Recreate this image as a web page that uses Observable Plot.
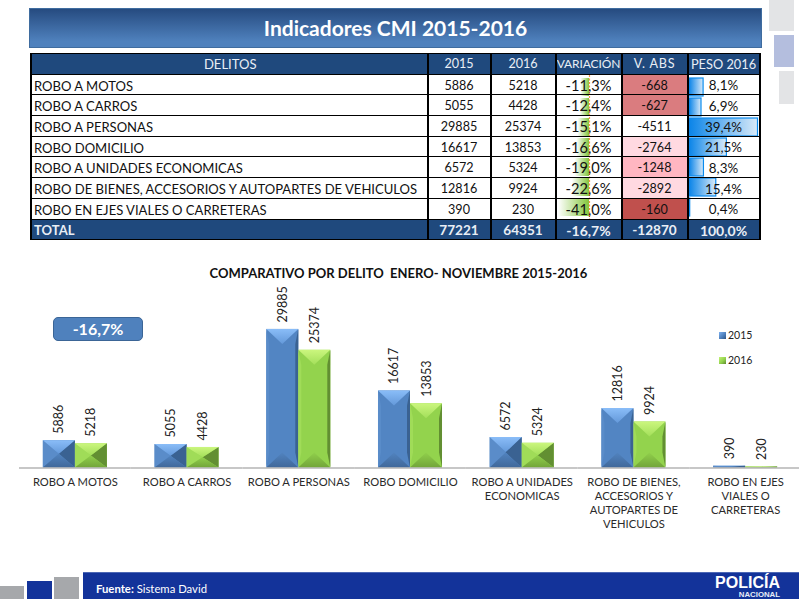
<!DOCTYPE html>
<html lang="es">
<head>
<meta charset="utf-8">
<script src="https://cdn.jsdelivr.net/npm/d3@7"></script>
<script src="https://cdn.jsdelivr.net/npm/@observablehq/plot@0.6"></script>
<style>
html,body{margin:0;padding:0;background:#fff;width:799px;height:599px;overflow:hidden;font-family:Lato,sans-serif;}
.abs{position:absolute;}
#band{left:29px;top:8px;width:731px;height:37.5px;border:1.5px solid #3F6C9F;background:linear-gradient(#264B80,#4F81BD 85%);color:#fff;font:700 21px/37px Lato,sans-serif;text-align:center;}
#tableWrap{left:30px;top:53px;z-index:2;}
table{border-collapse:collapse;table-layout:fixed;width:730px;}
td{height:19.7px;padding:0;border:2px solid #000;border-top-width:1.5px;border-bottom-width:1.5px;color:#111;font-size:12.6px;text-align:center;white-space:nowrap;overflow:hidden;}
td div{display:flex;justify-content:center;align-items:center;height:19.7px;overflow:hidden;line-height:1;padding-top:3px;box-sizing:border-box;}
td.name div{justify-content:flex-start;padding-left:2px;font-size:13.05px;}
tr.head td{background:#1F497D;color:#E9EEF5;font-size:12.6px;}
tr.head td div{padding-top:1px;}
tr.total td{background:#1F497D;color:#E9EEF5;font-weight:700;font-size:13.6px;}
td.pct div{font-size:14.6px;}
tr.row td:nth-child(6) div{font-size:13.4px;}
tr.head td.pct div{font-size:12px;letter-spacing:-.1px;}
tr.head td:nth-child(5) div{letter-spacing:.8px;font-size:12.6px;}
tr.head td:nth-child(6) div{font-size:12.8px;letter-spacing:0;}
tr.total td.pct div{font-size:14px;}
#chartTitle{left:0;width:797px;top:265px;text-align:center;font:700 13px/16px Lato,sans-serif;color:#111;}
#badge{left:53px;top:317px;width:88px;height:22px;border:1.5px solid #3B6596;border-radius:5px;background:#4F81BD;color:#fff;font:700 16px/22px Lato,sans-serif;text-align:center;}
.leg{left:719px;font:400 10.5px/12px Lato,sans-serif;color:#222;display:flex;align-items:center;gap:2px;}
.leg i{display:block;width:7px;height:7px;}
.sq{position:absolute;}
#foot{left:82.5px;top:572px;width:717px;height:27px;background:#13339A;border-top:1px solid #4C67B5;box-sizing:border-box;color:#fff;}
#fuente{left:96px;top:582px;color:#fff;font:400 11.3px/14px Lato,sans-serif;}
#pol{left:700px;width:80px;top:574px;color:#fff;font:700 16px/17px "Liberation Sans",sans-serif;text-align:right;}
#nac{left:700px;width:80px;top:590px;color:#E8ECF6;font:700 7.8px/9px "Liberation Sans",sans-serif;text-align:right;}
</style>
</head>
<body>
<div class="sq" style="left:769px;top:0;width:25px;height:31px;background:#E3E4E6"></div>
<div class="sq" style="left:774px;top:34.5px;width:20px;height:32.5px;background:#B4BEDE"></div>
<div class="sq" style="left:779px;top:71px;width:15px;height:33px;background:#E3E4E6"></div>
<div id="band" class="abs">Indicadores CMI 2015-2016</div>

<div id="chartTitle" class="abs">COMPARATIVO POR DELITO&nbsp; ENERO- NOVIEMBRE 2015-2016</div>
<div id="badge" class="abs">-16,7%</div>
<div class="abs leg" style="top:329px"><i style="background:linear-gradient(135deg,#7DB1F0,#4F81BD 55%,#2F5584)"></i>2015</div>
<div class="abs leg" style="top:354px"><i style="background:linear-gradient(135deg,#C3F274,#92D24C 55%,#5F8A30)"></i>2016</div>

<div class="sq" style="left:0;top:586px;width:24px;height:13px;background:#A6A8AB"></div>
<div class="sq" style="left:27px;top:581px;width:25px;height:18px;background:#13339A"></div>
<div class="sq" style="left:54px;top:577px;width:25px;height:22px;background:#A6A8AB"></div>
<div id="foot" class="abs"></div>
<div id="fuente" class="abs"><b>Fuente:</b> Sistema David</div>
<div id="pol" class="abs">POLICÍA</div>
<div id="nac" class="abs">NACIONAL</div>

<script>
// ---- Data ----
const categories = [
  "ROBO A MOTOS","ROBO A CARROS","ROBO A PERSONAS","ROBO DOMICILIO",
  "ROBO A UNIDADES ECONOMICAS","ROBO DE BIENES, ACCESORIOS Y AUTOPARTES DE VEHICULOS",
  "ROBO EN EJES VIALES O CARRETERAS"
];
const axisLabels = [
  "ROBO A MOTOS","ROBO A CARROS","ROBO A PERSONAS","ROBO DOMICILIO",
  "ROBO A UNIDADES\nECONOMICAS","ROBO DE BIENES,\nACCESORIOS Y\nAUTOPARTES DE\nVEHICULOS",
  "ROBO EN EJES\nVIALES O\nCARRETERAS"
];
const years = ["2015","2016"];
const v2015 = [5886,5055,29885,16617,6572,12816,390];
const v2016 = [5218,4428,25374,13853,5324,9924,230];
const variacion = [-11.3,-12.4,-15.1,-16.6,-19.0,-22.6,-41.0];
const vabs = [-668,-627,-4511,-2764,-1248,-2892,-160];
const peso = [8.1,6.9,39.4,21.5,8.3,15.4,0.4];
const headers = ["DELITOS","2015","2016","VARIACIÓN","V. ABS","PESO 2016"];
const totals = ["TOTAL","77221","64351","-16,7%","-12870","100,0%"];

// ---- Styles ----
const blue = "#5285C3", green = "#93D34D";
const bevel = {
  [blue]:  {top:"url(#topB)", bottom:"url(#botB)", left:"#5A8CC9", right:"#3A6292"},
  [green]: {top:"url(#topG)", bottom:"url(#botG)", left:"#A0DC58", right:"#628F32"}
};
const colW = [396.5,63,65,66,66,72];
const cellColor = d3.scaleThreshold().domain([200,1000,2000,3000]).range(["#C0504D","#DA7C7F","#FFB6C1","#FFD9E1","#FFFFFF"]);
const es = v => v.toFixed(1).replace(".", ",") + "%";

// ---- Table ----
const tb = d3.select("body").append("div").attr("id","tableWrap").attr("class","abs").append("table");
const cg = tb.append("colgroup"); colW.forEach(w => cg.append("col").style("width", w+"px"));
const addRow = (cells, cls, styler) => {
  const tr = tb.append("tr").attr("class", cls);
  cells.forEach((c,i) => {
    const td = tr.append("td").attr("class", (i===0?"name ":"") + (i===3||i===5?"pct":""));
    if (styler) styler(td,i);
    td.append("div").text(c);
  });
};
addRow(headers, "head");
d3.select(tb.select("tr.head td").node()).select("div").style("justify-content","center");
categories.forEach((c,i) => addRow(
  [c, v2015[i], v2016[i], es(variacion[i]), vabs[i], es(peso[i])], "row",
  (td,j) => { if (j===4) td.style("background", cellColor(Math.abs(vabs[i]))); }
));
addRow(totals, "total");

// ---- Bar overlays inside the table ----
const gradient = (id, stops, vertical) => () => {
  const defs = d3.create("svg:defs");
  const g = defs.append("linearGradient").attr("id", id);
  if (vertical) g.attr("x2",0).attr("y2",1);
  stops.forEach(([o,c]) => g.append("stop").attr("offset", o).attr("stop-color", c));
  return defs.node();
};
const rows = categories.map((c,i) => ({c, variacion:variacion[i], peso:peso[i]}));
const place = (node, left, top) => {
  const d = d3.select("body").append("div").attr("class","abs").style("left",left+"px").style("top",top+"px").style("z-index",1);
  d.node().append(node);
};
const yRows = {domain:categories, axis:null, padding:0.08};
place(Plot.plot({
  width:66, height:144, margin:0, marginLeft:2, marginRight:33,
  style:{background:"transparent",display:"block"},
  x:{domain:[-41,0], axis:null}, y:yRows,
  marks:[
    gradient("gv",[["0","#FFFFFF"],["1","#84C63C"]]),
    Plot.barX(rows,{x:"variacion", y:"c", fill:"url(#gv)"}),
    Plot.ruleX([0],{stroke:"#F79646", strokeWidth:1.2, strokeDasharray:"2,1.5"})
  ]
}), 556, 74.5);
place(Plot.plot({
  width:71, height:144, margin:0, marginLeft:1, marginRight:1.5,
  style:{background:"transparent",display:"block"},
  x:{domain:[0,39.4], axis:null}, y:yRows,
  marks:[
    gradient("gp",[["0","#0A84E8"],["1","#D8EAF9"]]),
    Plot.barX(rows,{x:"peso", y:"c", fill:"url(#gp)", stroke:"#0A8BEE", strokeWidth:1.2})
  ]
}), 688, 74.5);

// ---- Main chart ----
const chartRows = categories.flatMap((c,i) => [
  {delito:c, year:years[0], value:v2015[i]},
  {delito:c, year:years[1], value:v2016[i]}
]);
const labelOf = new Map(d3.zip(categories, axisLabels));
const poly = (g, pts, fill) => g.append("polygon").attr("points", pts.map(p=>p.join(",")).join(" ")).attr("fill", fill);
function bevelBars(index, scales, values, dims, ctx, next) {
  const g = next(index, scales, values, dims, ctx);
  d3.select(g).selectAll("rect").each(function() {
    const r = d3.select(this);
    const x=+r.attr("x"), y=+r.attr("y"), w=+r.attr("width"), h=+r.attr("height"), p=bevel[r.attr("fill")];
    if (!p || !(h>0)) return;
    const parent = d3.select(this.parentNode), x2=x+w, y2=y+h, cx=x+w/2;
    const d = Math.min(15, h/2), pyramid = h<35, ins = pyramid ? w/2 : 3;
    poly(parent, [[x,y],[x,y2],[x+ins,y2-d],[x+ins,y+d]], p.left);
    poly(parent, [[x2,y],[x2,y2],[x2-ins,y2-d],[x2-ins,y+d]], p.right);
    poly(parent, [[x,y],[x2,y],[cx,y+d]], p.top);
    poly(parent, [[x,y2],[x2,y2],[cx,y2-d]], p.bottom);
  });
  return g;
}
place(Plot.plot({
  width:799, height:248, marginTop:0, marginBottom:62.5, marginLeft:19, marginRight:-2,
  style:{background:"transparent",display:"block",overflow:"visible",fontFamily:"Lato,sans-serif"},
  fx:{domain:categories, padding:0, label:null, round:false},
  x:{domain:years, paddingInner:0, paddingOuter:0.745, axis:null, label:null, round:false},
  y:{domain:[0,40000], axis:null},
  color:{domain:years, range:[blue,green]},
  marks:[
    gradient("topB",[["0","#8ABDF8"],["1","#6499DA"]],true),
    gradient("botB",[["0","#5183BF"],["1","#40689A"]],true),
    gradient("topG",[["0","#CBF67E"],["1","#A3DF5A"]],true),
    gradient("botG",[["0","#90CF4B"],["1","#72A539"]],true),
    Plot.barY(chartRows,{fx:"delito", x:"year", y:"value", fill:"year", render:bevelBars}),
    Plot.ruleY([0],{stroke:"#B5B5B5", strokeWidth:1.5}),
    Plot.text(chartRows,{fx:"delito", x:"year", y:"value", text:d=>String(d.value), rotate:-90, textAnchor:"start", dy:-7, fontSize:12.5, fill:"#222"}),
    Plot.axisFx({anchor:"bottom", label:null, tickSize:0, tickPadding:8, lineHeight:1.25, fontSize:11.2, fill:"#2a2a2a", tickFormat:d=>labelOf.get(d), textOverflow:null})
  ]
}), 0, 282);
</script>
</body>
</html>
